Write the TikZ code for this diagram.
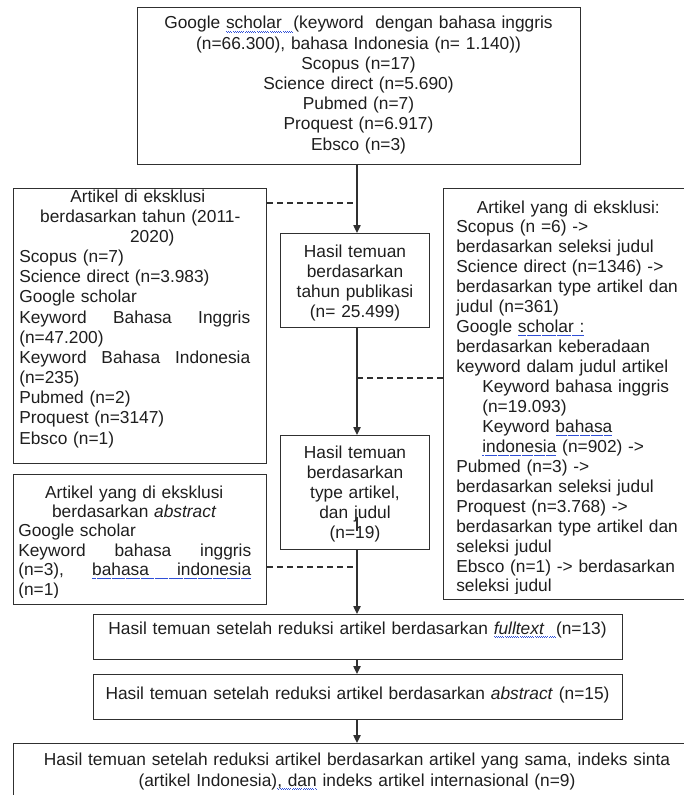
\documentclass[tikz,border=0pt]{standalone}
\usepackage{fontspec}
\setmainfont{Liberation Sans}
\usetikzlibrary{arrows.meta}
\newdimen\px \px=0.75pt
\definecolor{ink}{HTML}{1E1E1E}
\definecolor{lin}{HTML}{303030}
\definecolor{sqblue}{HTML}{3050D8}
\newlength\sqw
\newcommand\sq[1]{\settowidth\sqw{#1}\leavevmode\rlap{\raisebox{-2.6pt}[0pt][0pt]{\textcolor{sqblue}{\hbox to\sqw{\xleaders\hbox to 1.6pt{\rule[0.45pt]{0.5pt}{0.5pt}\hss\rule{0.5pt}{0.5pt}\hss}\hfill}}}}#1}
\newcommand\ctr[2]{\hspace*{#1\px}\makebox[0pt]{#2}}
\newcommand\ind{\hspace*{26\px}}
\begin{document}
\begin{tikzpicture}[x=0.75pt,y=-0.75pt,
  box/.style={draw=lin,line width=1.1pt,rectangle,inner sep=0pt,anchor=north west},
  txt/.style={inner sep=0pt,text=ink,font=\fontsize{13}{#1}\selectfont},
  arr/.style={draw=lin,line width=1pt,-{Triangle[length=6pt,width=5.5pt]}},
  dsh/.style={draw=lin,line width=0.8pt,dash pattern=on 4.5pt off 3pt}]
\useasboundingbox (0,0) rectangle (684,795);
% boxes
\node[box,minimum width=443*0.75pt,minimum height=157*0.75pt] (top) at (137,7) {};
\node[box,minimum width=253*0.75pt,minimum height=275*0.75pt] (L1) at (13,188) {};
\node[box,minimum width=149*0.75pt,minimum height=94*0.75pt] (C1) at (280,233) {};
\node[box,minimum width=257*0.75pt,minimum height=411*0.75pt] (R) at (443,188) {};
\node[box,minimum width=149*0.75pt,minimum height=114*0.75pt] (C2) at (280,435) {};
\node[box,minimum width=253*0.75pt,minimum height=130*0.75pt] (L2) at (13,474) {};
\node[box,minimum width=529*0.75pt,minimum height=45*0.75pt] (F1) at (93,614) {};
\node[box,minimum width=529*0.75pt,minimum height=45*0.75pt] (F2) at (93,674) {};
\node[box,minimum width=687*0.75pt,minimum height=62*0.75pt] (F3) at (13,743) {};
% texts
\node[txt=15.15pt,text width=440*0.75pt,align=center,anchor=base] (topt) at (358.5,29) {%
Google \sq{scholar\ \ }(keyword\ \ dengan bahasa inggris\\
(n=66.300), bahasa Indonesia (n= 1.140))\\
Scopus (n=17)\\
Science direct (n=5.690)\\
Pubmed (n=7)\\
Proquest (n=6.917)\\
Ebsco (n=3)};
\node[txt=15.13pt,text width=231*0.75pt,align=left,anchor=base west] (L1t) at (19,202) {%
\ctr{118.5}{Artikel di eksklusi}\\
\ctr{121}{berdasarkan tahun (2011-}\\
\ctr{133}{2020)}\\
Scopus (n=7)\\
Science direct (n=3.983)\\
Google scholar\\
Keyword\hfill Bahasa\hfill Inggris\\
(n=47.200)\\
Keyword\hfill Bahasa\hfill Indonesia\\
(n=235)\\
Pubmed (n=2)\\
Proquest (n=3147)\\
Ebsco (n=1)};
\node[txt=15.2pt,text width=140*0.75pt,align=center,anchor=base] (C1t) at (355,257) {%
Hasil temuan\\ berdasarkan\\ tahun publikasi\\ (n= 25.499)};
\node[txt=15.15pt,text width=140*0.75pt,align=center,anchor=base] (C2t) at (355,458) {%
Hasil temuan\\ berdasarkan\\ type artikel,\\ dan judul\\ (n=19)};
\begin{scope}
\clip (443,188) rectangle (700,593);
\node[txt=14.96pt,text width=235*0.75pt,align=left,anchor=base west] (Rt) at (456,213) {%
\ctr{112}{Artikel yang di eksklusi:}\\
Scopus (n =6) ->\\
berdasarkan seleksi judul\\
Science direct (n=1346) ->\\
berdasarkan type artikel dan\\
judul (n=361)\\
Google \sq{scholar :}\\
berdasarkan keberadaan\\
keyword dalam judul artikel\\
\ind Keyword bahasa inggris\\
\ind (n=19.093)\\
\ind Keyword \sq{bahasa}\\
\ind \sq{indonesia} (n=902) ->\\
Pubmed (n=3) ->\\
berdasarkan seleksi judul\\
Proquest (n=3.768) ->\\
berdasarkan type artikel dan\\
seleksi judul\\
Ebsco (n=1) -> berdasarkan\\
seleksi judul};
\end{scope}
\begin{scope}
\clip (13,474) rectangle (266,597);
\node[txt=14.55pt,text width=233*0.75pt,align=left,anchor=base west] (L2t) at (18,498) {%
\ctr{116}{Artikel yang di eksklusi}\\
\ctr{116}{berdasarkan \textit{abstract}}\\
Google scholar\\
Keyword\hfill bahasa\hfill inggris\\
(n=3),\hfill\sq{bahasa\hspace{28\px}indonesia}\\
(n=1)};
\end{scope}
\node[txt=15.15pt,text width=520*0.75pt,align=center,anchor=base] (F1t) at (357.5,634) {%
Hasil temuan setelah reduksi artikel berdasarkan \sq{\textit{fulltext}\ \ }(n=13)};
\node[txt=15.15pt,text width=520*0.75pt,align=center,anchor=base] (F2t) at (357.5,699) {%
Hasil temuan setelah reduksi artikel berdasarkan \textit{abstract} (n=15)};
\node[txt=15.75pt,text width=670*0.75pt,align=center,anchor=base] (F3t) at (357,765) {%
Hasil temuan setelah reduksi artikel berdasarkan artikel yang sama, indeks sinta\\
(artikel Indonesia)\sq{, dan} indeks artikel internasional (n=9)};
% connectors
\coordinate (cx) at (357,0);
\draw[arr] (top.south -| cx) -- (C1.north -| cx);
\draw[arr] (C1.south -| cx) -- (C2.north -| cx);
\draw[arr] (C2.south -| cx) -- (F1.north -| cx);
\draw[arr] (F1.south -| cx) -- (F2.north -| cx);
\draw[arr] (F2.south -| cx) -- (F3.north -| cx);
\coordinate (d1) at (357,203);
\coordinate (d2) at (357,378);
\coordinate (d3) at (357,567);
\draw[dsh] (L1.east |- d1) -- (d1);
\draw[dsh] (d2) -- (R.west |- d2);
\draw[dsh] (L2.east |- d3) -- (d3);
% fragment of the centre line showing through the second result box
\draw[draw=lin,line width=0.8pt] (357,517) -- (357,531);
\end{tikzpicture}
\end{document}
